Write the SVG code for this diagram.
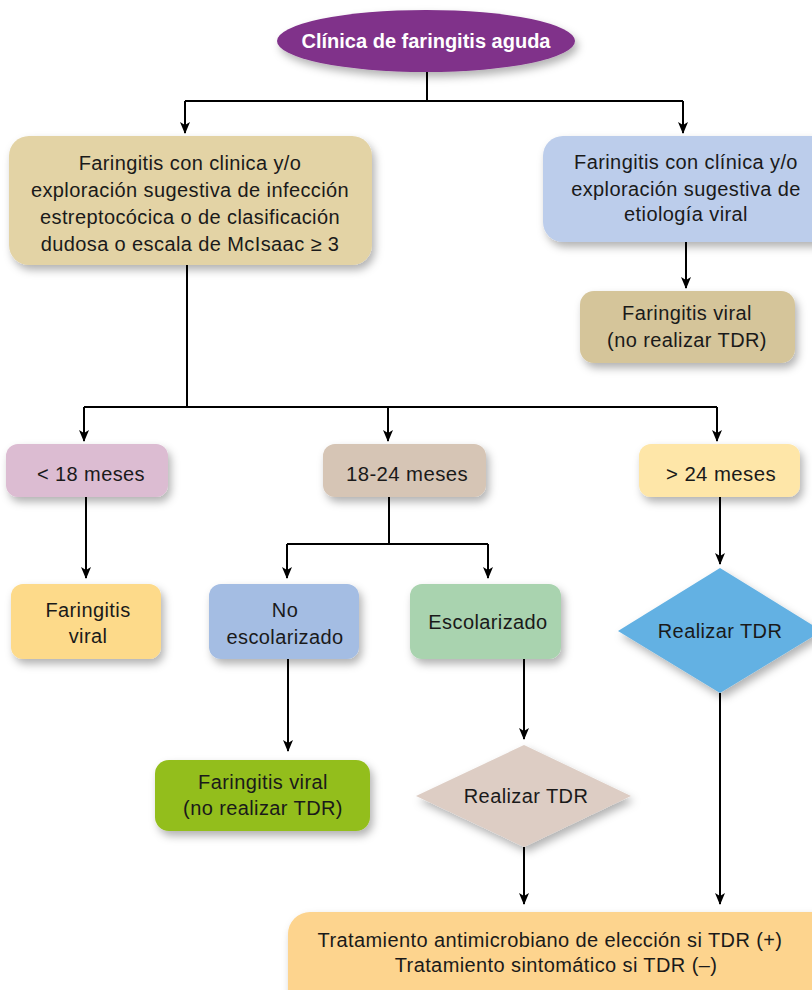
<svg xmlns="http://www.w3.org/2000/svg" width="812" height="990" viewBox="0 0 812 990">
  <style>
    .t { font-family: "Liberation Sans", Arial, sans-serif; font-size: 20px; letter-spacing: 0.4px; fill: #1a1a1a; text-anchor: middle; }
    .title { font-family: "Liberation Sans", Arial, sans-serif; font-size: 20px; font-weight: bold; fill: #ffffff; text-anchor: middle; }
    .c { fill: none; stroke: #000; stroke-width: 2; }
    .a { marker-end: url(#arrow); }
    .sh { filter: url(#shadow); }
  </style>
  <defs>
    <filter id="shadow" x="-20%" y="-20%" width="140%" height="150%">
      <feDropShadow dx="3" dy="5" stdDeviation="4" flood-color="#000" flood-opacity="0.3"/>
    </filter>
    <marker id="arrow" viewBox="0 0 12 10" refX="11" refY="5" markerWidth="12" markerHeight="10" markerUnits="userSpaceOnUse" orient="auto">
      <path d="M0,0 L12,5 L0,10 L3,5 Z" fill="#000"/>
    </marker>
  </defs>
  <rect width="812" height="990" fill="#ffffff"/>

  <!-- connectors -->
  <g id="connectors">
    <path class="c" d="M427,72 V101 M185,101 H683"/>
    <path class="c a" d="M185,101 V133"/>
    <path class="c a" d="M683,101 V133"/>
    <path class="c a" d="M686,242 V288"/>
    <path class="c" d="M187,265 V407 M84,407 H717"/>
    <path class="c a" d="M84,407 V441"/>
    <path class="c a" d="M388,407 V441"/>
    <path class="c a" d="M717,407 V441"/>
    <path class="c a" d="M86,497 V578"/>
    <path class="c" d="M389,497 V544 M287,544 H488"/>
    <path class="c a" d="M287,544 V578"/>
    <path class="c a" d="M488,544 V578"/>
    <path class="c a" d="M288,659 V751"/>
    <path class="c a" d="M524,659 V739"/>
    <path class="c a" d="M720,497 V564"/>
    <path class="c a" d="M524,847 V904"/>
    <path class="c a" d="M720,693 V904"/>
  </g>

  <g id="inicio">
    <ellipse class="sh" cx="426" cy="41" rx="149" ry="31" fill="#80318A"/>
    <text class="title" x="426" y="48">Clínica de faringitis aguda</text>
  </g>

  <g id="estreptococica">
    <rect class="sh" x="9" y="136" width="363" height="129" rx="20" fill="#E3D3A5"/>
    <text class="t" x="190" y="170">Faringitis con clinica y/o</text>
    <text class="t" x="190" y="197">exploración sugestiva de infección</text>
    <text class="t" x="190" y="224">estreptocócica o de clasificación</text>
    <text class="t" x="190" y="251">dudosa o escala de McIsaac ≥ 3</text>
  </g>

  <g id="viral-clinica">
    <rect class="sh" x="543" y="136" width="290" height="106" rx="20" fill="#BCCDEB"/>
    <text class="t" x="686" y="169">Faringitis con clínica y/o</text>
    <text class="t" x="686" y="196">exploración sugestiva de</text>
    <text class="t" x="686" y="221">etiología viral</text>
  </g>

  <g id="viral-no-tdr-1">
    <rect class="sh" x="580" y="291" width="215" height="72" rx="14" fill="#D5C59A"/>
    <text class="t" x="687" y="320">Faringitis viral</text>
    <text class="t" x="687" y="347">(no realizar TDR)</text>
  </g>

  <g id="menor-18">
    <rect class="sh" x="6" y="444" width="162" height="53" rx="12" fill="#DCBCD2"/>
    <text class="t" x="91" y="481" textLength="108" lengthAdjust="spacingAndGlyphs">&lt; 18 meses</text>
  </g>

  <g id="entre-18-24">
    <rect class="sh" x="323" y="444" width="163" height="53" rx="12" fill="#D6C5B5"/>
    <text class="t" x="407" y="481" textLength="122" lengthAdjust="spacingAndGlyphs">18-24 meses</text>
  </g>

  <g id="mayor-24">
    <rect class="sh" x="639" y="444" width="161" height="53" rx="12" fill="#FEE6A8"/>
    <text class="t" x="721" y="481" textLength="110" lengthAdjust="spacingAndGlyphs">&gt; 24 meses</text>
  </g>

  <g id="viral-menor-18">
    <rect class="sh" x="11" y="584" width="150" height="75" rx="12" fill="#FDDA8A"/>
    <text class="t" x="88" y="617">Faringitis</text>
    <text class="t" x="88" y="643">viral</text>
  </g>

  <g id="no-escolarizado">
    <rect class="sh" x="209" y="584" width="150" height="75" rx="12" fill="#A4BDE3"/>
    <text class="t" x="285" y="617">No</text>
    <text class="t" x="285" y="644">escolarizado</text>
  </g>

  <g id="escolarizado">
    <rect class="sh" x="410" y="584" width="151" height="75" rx="12" fill="#A9D3AF"/>
    <text class="t" x="488" y="629">Escolarizado</text>
  </g>

  <g id="viral-no-tdr-2">
    <rect class="sh" x="155" y="760" width="215" height="71" rx="14" fill="#93BE1C"/>
    <text class="t" x="263" y="789">Faringitis viral</text>
    <text class="t" x="263" y="815">(no realizar TDR)</text>
  </g>

  <g id="tdr-escolarizado">
    <polygon class="sh" points="524,745 631,796 524,847 416,796" fill="#DDCDC4"/>
    <text class="t" x="526" y="803">Realizar TDR</text>
  </g>

  <g id="tdr-mayor-24">
    <polygon class="sh" points="720,568 822,631 720,693 618,631" fill="#63B1E3"/>
    <text class="t" x="720" y="638">Realizar TDR</text>
  </g>

  <g id="tratamiento">
    <rect class="sh" x="288" y="912" width="560" height="100" rx="22" fill="#FDD48E"/>
    <text class="t" x="550" y="947">Tratamiento antimicrobiano de elección si TDR (+)</text>
    <text class="t" x="556" y="972">Tratamiento sintomático si TDR (–)</text>
  </g>
</svg>
